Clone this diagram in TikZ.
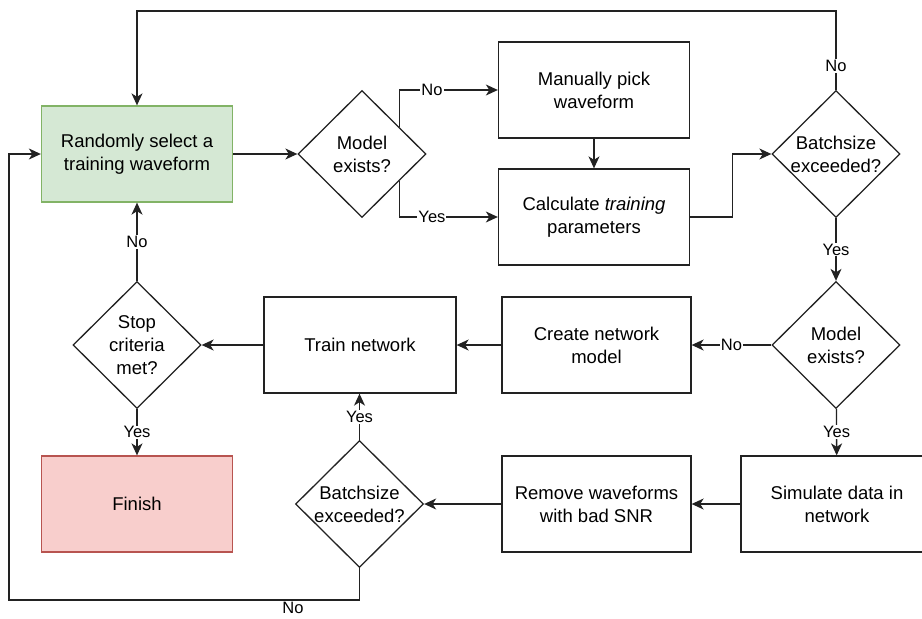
\documentclass[tikz,border=0pt]{standalone}
\usepackage{fontspec}
\setmainfont{Liberation Sans}
\usetikzlibrary{shapes.geometric,arrows.meta,calc}
\definecolor{greenf}{HTML}{D5E8D4}
\definecolor{greend}{HTML}{82B366}
\definecolor{redf}{HTML}{F8CECC}
\definecolor{redd}{HTML}{B85450}
\definecolor{stroke}{HTML}{222222}
\begin{document}
\begin{tikzpicture}[x=1pt,y=-1pt,
  line width=1.3pt,
  font=\fontsize{18.5}{23}\selectfont,
  box/.style={draw=stroke, rectangle, minimum width=191pt, minimum height=96pt, align=center, inner sep=0pt},
  dia/.style={draw=stroke, diamond, minimum width=128pt, minimum height=127pt, inner sep=0pt},
  dtext/.style={align=center},
  lab/.style={fill=white, inner sep=1pt, font=\fontsize{16.5}{19}\selectfont},
  arr/.style={draw=stroke, -{Stealth[length=12pt,width=11pt,inset=3.5pt]}},
]
\useasboundingbox (0,0) rectangle (922,619);

\node[box, fill=greenf, draw=greend] (rand) at (137,154) {Randomly select a\\training waveform};
\node[dia, label={[dtext]center:{Model\\exists?}}] (d1) at (362,154) {};
\node[box] (manual) at (594,90) {Manually pick\\waveform};
\node[box] (calc) at (594,217) {Calculate \textit{training}\\parameters};
\node[dia, label={[dtext]center:{Batchsize\\exceeded?}}] (bs1) at (836,154) {};
\node[dia, label={[dtext]center:{Model\\exists?}}] (me2) at (836,345) {};
\node[box, minimum width=189pt] (create) at (596.5,345) {Create network\\model};
\node[box, minimum width=192pt] (train) at (360,345) {Train network};
\node[dia, label={[dtext]center:{Stop\\criteria\\met?}}] (stop) at (137,345) {};
\node[box, fill=redf, draw=redd] (finish) at (137,504) {Finish};
\node[box, minimum width=192pt] (sim) at (837,504) {Simulate data in\\network};
\node[box, minimum width=189pt] (remove) at (596.5,504) {Remove waveforms\\with bad SNR};
\node[dia, label={[dtext]center:{Batchsize\\exceeded?}}] (bs2) at (359.5,504) {};

\coordinate (topy) at (0,11);
\coordinate (boty) at (0,600);
\coordinate (leftx) at (9,0);

\draw[arr] (rand.east) -- (d1.west);
\draw[arr] ($(d1.east)!0.42!(d1.north)$) |- node[lab, pos=0.665]{No} (manual.west);
\draw[arr] ($(d1.east)!0.42!(d1.south)$) |- node[lab, pos=0.665]{Yes} (calc.west);
\draw[arr] (manual) -- (calc);
\draw[arr] (calc.east) -- ++(42,0) |- (bs1.west);
\draw[arr] (bs1.north) -- node[lab, pos=0.3]{No} (bs1.north |- topy) -| (rand.north);
\draw[arr] (bs1) -- node[lab]{Yes} (me2);
\draw[arr] (me2) -- node[lab]{No} (create);
\draw[arr] (create) -- (train);
\draw[arr] (train) -- (stop);
\draw[arr] (stop) -- node[lab]{No} (rand);
\draw[arr] (stop) -- node[lab]{Yes} (finish);
\draw[arr] (me2) -- node[lab]{Yes} (sim);
\draw[arr] (sim) -- (remove);
\draw[arr] (remove) -- (bs2);
\draw[arr] (bs2.north) -- node[lab]{Yes} (bs2.north |- train.south);
\draw[arr] (bs2.south) -- (bs2.south |- boty) -- node[lab, pos=0.19, yshift=-8pt]{No} (leftx |- boty) |- (rand.west);
\end{tikzpicture}
\end{document}
